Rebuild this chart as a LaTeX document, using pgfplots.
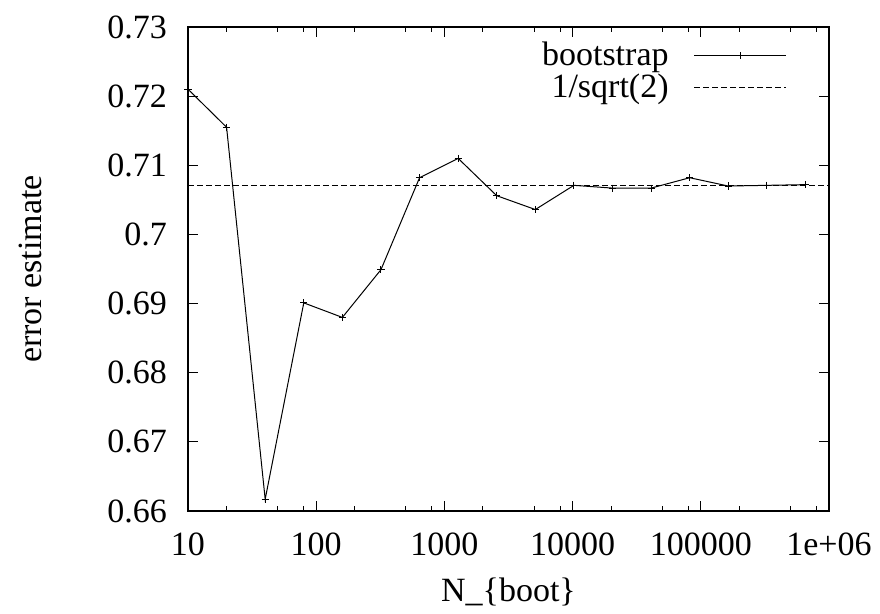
\documentclass[border=0pt]{standalone}
\usepackage{fontspec}
\setmainfont{Liberation Serif}
\usepackage{pgfplots}
\pgfplotsset{compat=1.18}
\begin{document}
\begin{tikzpicture}[font=\fontsize{17}{20}\selectfont]
\path[use as bounding box] (-94pt,-51.5pt) rectangle (346pt,255.5pt);
\begin{axis}[
  at={(0,0)}, anchor=south west, scale only axis,
  width=320.5pt, height=242pt,
  xmode=log, xmin=10, xmax=1000000,
  ymin=0.66, ymax=0.73,
  xtick={10,100,1000,10000,100000,1000000},
  xticklabels={10,100,1000,10000,100000,1e+06},
  minor xtick={20,50,80,200,500,800,2000,5000,8000,20000,50000,80000,200000,500000,800000},
  ytick={0.66,0.67,0.68,0.69,0.70,0.71,0.72,0.73},
  yticklabels={0.66,0.67,0.68,0.69,0.7,0.71,0.72,0.73},
  xticklabel style={yshift=-7.5pt},
  yticklabel style={xshift=-7pt},
  tick align=inside, major tick length=5pt, minor tick length=2.5pt,
  tick style={black, line width=0.5pt},
  axis line style={line width=0.7pt},
  clip=false,
  xlabel={N\_\{boot\}}, ylabel={error estimate},
  every axis x label/.style={at={(axis description cs:0.5,-0.167)}, anchor=center},
  every axis y label/.style={at={(axis description cs:-0.2465,0.5)}, rotate=90, anchor=center},
  legend plot pos=right,
  legend cell align=right,
  legend image code/.code={\draw[mark repeat=2,mark phase=2] plot coordinates {(0pt,0pt)(23pt,0pt)(46pt,0pt)};},
  legend style={draw=none, fill=none, at={(axis description cs:1,1)}, anchor=north east,
    xshift=-21pt, yshift=-7.5pt, inner sep=0pt, row sep=2.6pt,
    nodes={inner sep=0pt}, column sep=12.5pt},
]
\addplot[black, line width=0.5pt, mark=+, mark size=1.8pt] coordinates {
  (10,0.7210) (20,0.7155) (40,0.6617) (80,0.6901) (160,0.6880)
  (320,0.6949) (640,0.7082) (1280,0.7110) (2560,0.7056) (5120,0.7036)
  (10240,0.7071) (20480,0.7067) (40960,0.7067) (81920,0.7082)
  (163840,0.7070) (327680,0.7071) (655360,0.7072)
};
\addlegendentry{bootstrap}
\addplot[black, line width=0.5pt, dash pattern=on 3pt off 1.5pt] coordinates {
  (10,0.707107) (1000000,0.707107)
};
\addlegendentry{1/sqrt(2)}
\end{axis}
\end{tikzpicture}
\end{document}
